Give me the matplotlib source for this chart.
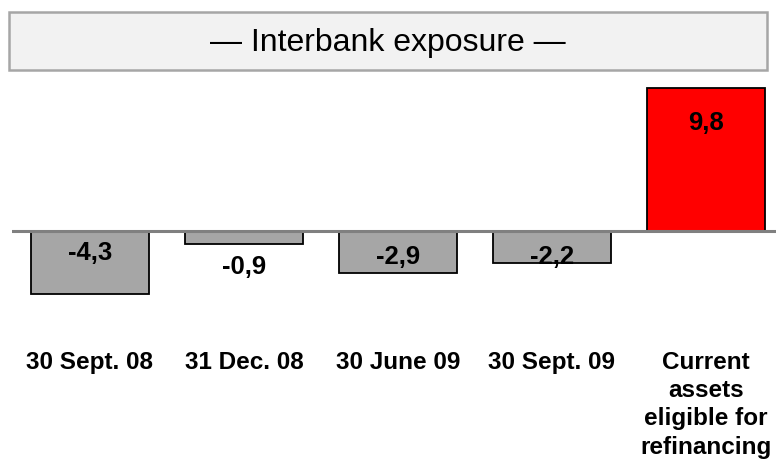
import matplotlib
matplotlib.use("Agg")
import matplotlib.pyplot as plt
from matplotlib.patches import Rectangle

plt.rcParams['font.family'] = ['Liberation Sans', 'DejaVu Sans']

categories = ["30 Sept. 08", "31 Dec. 08", "30 June 09", "30 Sept. 09",
              "Current\nassets\neligible for\nrefinancing"]
values = [-4.3, -0.9, -2.9, -2.2, 9.8]
value_labels = ["-4,3", "-0,9", "-2,9", "-2,2", "9,8"]
bar_colors = ["#a6a6a6", "#a6a6a6", "#a6a6a6", "#a6a6a6", "#ff0000"]
label_offsets_px = [-21, -35, -25, -25, 109]  # vertical offset of value labels from baseline (pixels)
title = "— Interbank exposure —"

W, H = 776, 460
fig = plt.figure(figsize=(W / 100, H / 100), dpi=100)
fig.patch.set_facecolor("white")

# axes placement in pixel terms
ax_left_px, ax_right_px = 12, 776
ax_top_px, ax_bot_px = 80, 300
ax = fig.add_axes([ax_left_px / W, (H - ax_bot_px) / H,
                   (ax_right_px - ax_left_px) / W, (ax_bot_px - ax_top_px) / H])

spacing = 154.0
c0 = 90.0
ax.set_xlim((ax_left_px - c0) / spacing, (ax_right_px - c0) / spacing)
base_px = 232.0
ppu = 14.6
ax.set_ylim((base_px - ax_bot_px) / ppu, (base_px - ax_top_px) / ppu)

x = list(range(len(values)))
ax.bar(x, values, width=118 / spacing, color=bar_colors, edgecolor="black",
       linewidth=1.3, zorder=2)
ax.axhline(0, color="#808080", linewidth=2.2, zorder=3)

for xi, lab, off in zip(x, value_labels, label_offsets_px):
    ax.annotate(lab, xy=(xi, 0), xytext=(0, off), textcoords="offset pixels",
                ha="center", va="center", fontsize=18.5, fontweight="bold",
                color="black", zorder=4)

for s in ax.spines.values():
    s.set_visible(False)
ax.set_yticks([])
ax.set_xticks(x)
ax.set_xticklabels(categories, fontsize=17.5, fontweight="bold",
                   linespacing=1.28, va="top", ha="center")
ax.tick_params(axis="x", length=0, pad=37)
ax.patch.set_alpha(0)

# title box
bx0, by0, bx1, by1 = 9, 13, 767, 71
fig.patches.append(Rectangle((bx0 / W, 1 - by1 / H), (bx1 - bx0) / W, (by1 - by0) / H,
                             transform=fig.transFigure, facecolor="#f2f2f2",
                             edgecolor="#a6a6a6", linewidth=1.8, zorder=0))
fig.text((bx0 + bx1) / 2 / W, 1 - 43 / H, title, ha="center", va="center",
         fontsize=23, color="black")

fig.savefig("out.png", dpi=100)
